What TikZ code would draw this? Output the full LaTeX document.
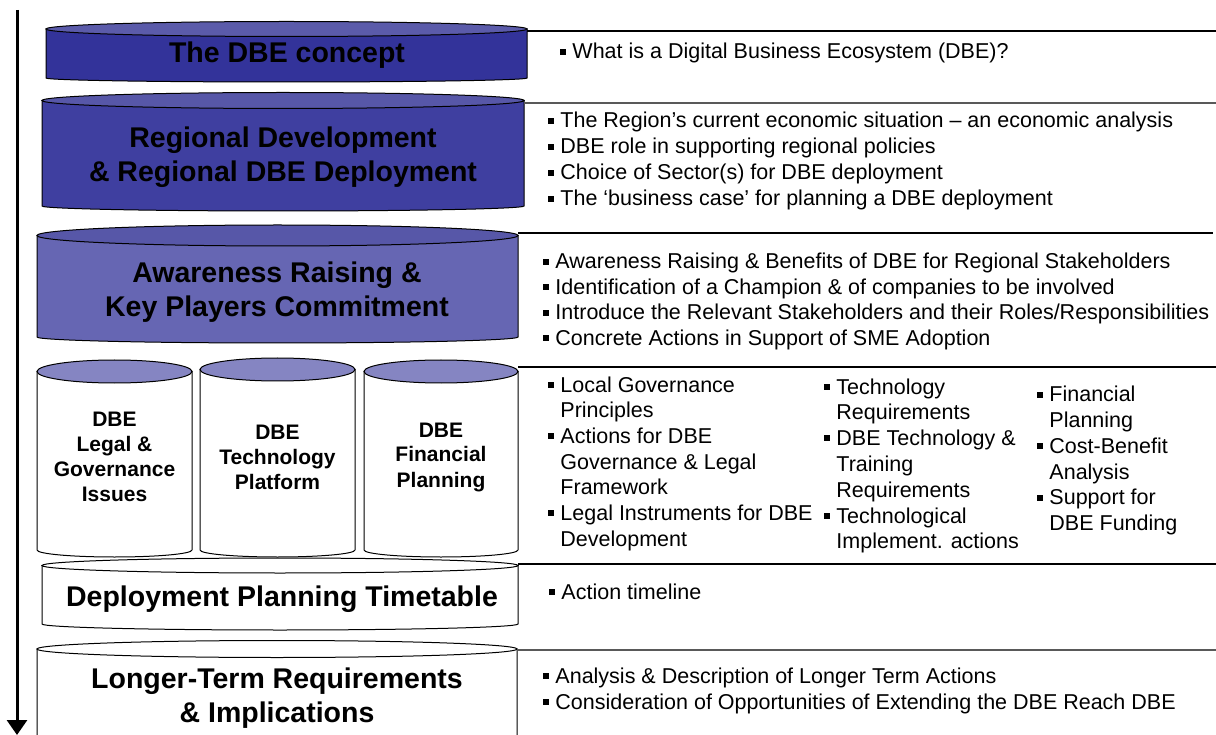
\documentclass[tikz,border=0pt]{standalone}
\usepackage{fontspec}
\setmainfont{Liberation Sans}
\usetikzlibrary{arrows.meta}
\definecolor{bodyA}{HTML}{33339A}
\definecolor{topA}{HTML}{5B5BAA}
\definecolor{bodyB}{HTML}{3F3FA0}
\definecolor{topB}{HTML}{5757A8}
\definecolor{bodyC}{HTML}{6666B3}
\definecolor{topC}{HTML}{5757A8}
\definecolor{topD}{HTML}{8585C2}
\newcommand\bul{\rule[0.2em]{0.27em}{0.27em}\hspace{0.3em}}
\newcommand\ind{\hphantom{\bul}}
\newcommand\cylshape[8]{%
  \pgfmathsetmacro\cx{(#1+#2)/2}%
  \pgfmathsetmacro\rx{(#2-#1)/2}%
  \filldraw[fill=#7, cylline] (#1,#3) -- (#1,#5) arc[start angle=180,end angle=360,x radius=\rx pt,y radius=#6pt] -- (#2,#3) -- cycle;
  \filldraw[fill=#8, cylline] (\cx,#3) ellipse[x radius=\rx pt, y radius=#4pt];
}
\begin{document}
\begin{tikzpicture}[x=1pt,y=-1pt,
  cylline/.style={draw=black, line width=1pt},
  ttl/.style={font=\fontsize{28.5}{34}\selectfont\bfseries, align=center, inner sep=0},
  stl/.style={font=\fontsize{21}{25}\selectfont\bfseries, align=center, inner sep=0},
  txt/.style={font=\fontsize{21.5}{24}\selectfont, anchor=base west, inner sep=0},
  sepline/.style={line width=1.5pt, draw=black},
  sepgray/.style={line width=1.5pt, draw=black!65}]
\useasboundingbox (0,0) rectangle (1216,735);
\fill[white] (0,0) rectangle (1216,735);
\begin{scope}
\clip (0,0) rectangle (1216,735);
% cylinders
\cylshape{46}{527}{29}{7.5}{78}{4}{bodyA}{topA}
\cylshape{42}{524}{100.5}{8}{206}{5}{bodyB}{topB}
\cylshape{37}{518}{235.5}{10.5}{337}{6}{bodyC}{topC}
\cylshape{37}{192}{371.5}{11.5}{550}{7}{white}{topD}
\cylshape{200}{355}{369.5}{11.5}{550}{7}{white}{topD}
\cylshape{364}{518}{371.5}{11.5}{550}{7}{white}{topD}
\cylshape{42}{518}{565.5}{7.5}{624}{6}{white}{white}
\cylshape{37}{517}{649}{8.5}{760}{6}{white}{white}
% separators
\coordinate (s1a) at (527,31);  \coordinate (s1b) at (1216,31);
\coordinate (s2a) at (524,103); \coordinate (s2b) at (1216,103);
\coordinate (s3a) at (518,233); \coordinate (s3b) at (1213,233);
\coordinate (s4a) at (518,367); \coordinate (s4b) at (1216,367);
\coordinate (s5a) at (518,564); \coordinate (s5b) at (1216,564);
\coordinate (s6a) at (517,650); \coordinate (s6b) at (1216,650);
\draw[sepline] (s1a) -- (s1b);
\draw[sepgray] (s2a) -- (s2b);
\draw[sepline] (s3a) -- (s3b);
\draw[sepline] (s4a) -- (s4b);
\draw[sepline] (s5a) -- (s5b);
\draw[sepgray] (s6a) -- (s6b);
% arrow
\coordinate (arrS) at (17,10);
\coordinate (arrE) at (17,735);
\draw[line width=3pt, -{Triangle[width=20pt,length=15pt]}] (arrS) -- (arrE);
\end{scope}
% titles
\node[ttl] (t1) at (287,55) {The DBE concept};
\node[ttl] (t2) at (283,157) {Regional Development\\\& Regional DBE Deployment};
\node[ttl] (t3) at (277,292) {Awareness Raising \&\\Key Players Commitment};
\node[stl] (t4) at (114.5,457) {DBE\\Legal \&\\Governance\\Issues};
\node[stl] (t5) at (277.5,457) {DBE\\Technology\\Platform};
\node[stl] (t6) at (441,457) {DBE\\Financial\\Planning};
\node[ttl] (t7) at (282,599) {Deployment Planning Timetable};
\node[ttl] (t8) at (277,698) {Longer-Term Requirements\\\& Implications};
% right texts
\node[txt] (w1) at (560,59) {\bul What is a Digital Business Ecosystem (DBE)?};
\foreach \t [count=\i] in {The Region’s current economic situation – an economic analysis,
  DBE role in supporting regional policies,
  Choice of Sector(s) for DBE deployment,
  The ‘business case’ for planning a DBE deployment}
  {\node[txt] (r\i) at (548,{128+(\i-1)*26}) {\bul\t};}
\foreach \t [count=\i] in {Awareness Raising \& Benefits of DBE for Regional Stakeholders,
  Identification of a Champion \& of companies to be involved,
  Introduce the Relevant Stakeholders and their Roles/Responsibilities,
  Concrete Actions in Support of SME Adoption}
  {\node[txt] (a\i) at (543,{269+(\i-1)*25.5}) {\bul\t};}
\foreach \t [count=\i] in {\bul Local Governance, \ind Principles, \bul Actions for DBE,
  \ind Governance \& Legal, \ind Framework, \bul Legal Instruments for DBE, \ind Development}
  {\node[txt] (c\i) at (548,{392+(\i-1)*25.7}) {\t};}
\foreach \t [count=\i] in {\bul Technology, \ind Requirements, \bul DBE Technology \&,
  \ind Training, \ind Requirements, \bul Technological, \ind Implement. actions}
  {\node[txt] (d\i) at (824,{394+(\i-1)*25.8}) {\t};}
\foreach \t [count=\i] in {\bul Financial, \ind Planning, \bul Cost-Benefit,
  \ind Analysis, \bul Support for, \ind DBE Funding}
  {\node[txt] (e\i) at (1037,{402+(\i-1)*25.7}) {\t};}
\node[txt] (p1) at (549,599) {\bul Action timeline};
\node[txt] (l1) at (543,683) {\bul Analysis \& Description of Longer Term Actions};
\node[txt] (l2) at (543,709) {\bul Consideration of Opportunities of Extending the DBE Reach DBE};
\end{tikzpicture}
\end{document}
